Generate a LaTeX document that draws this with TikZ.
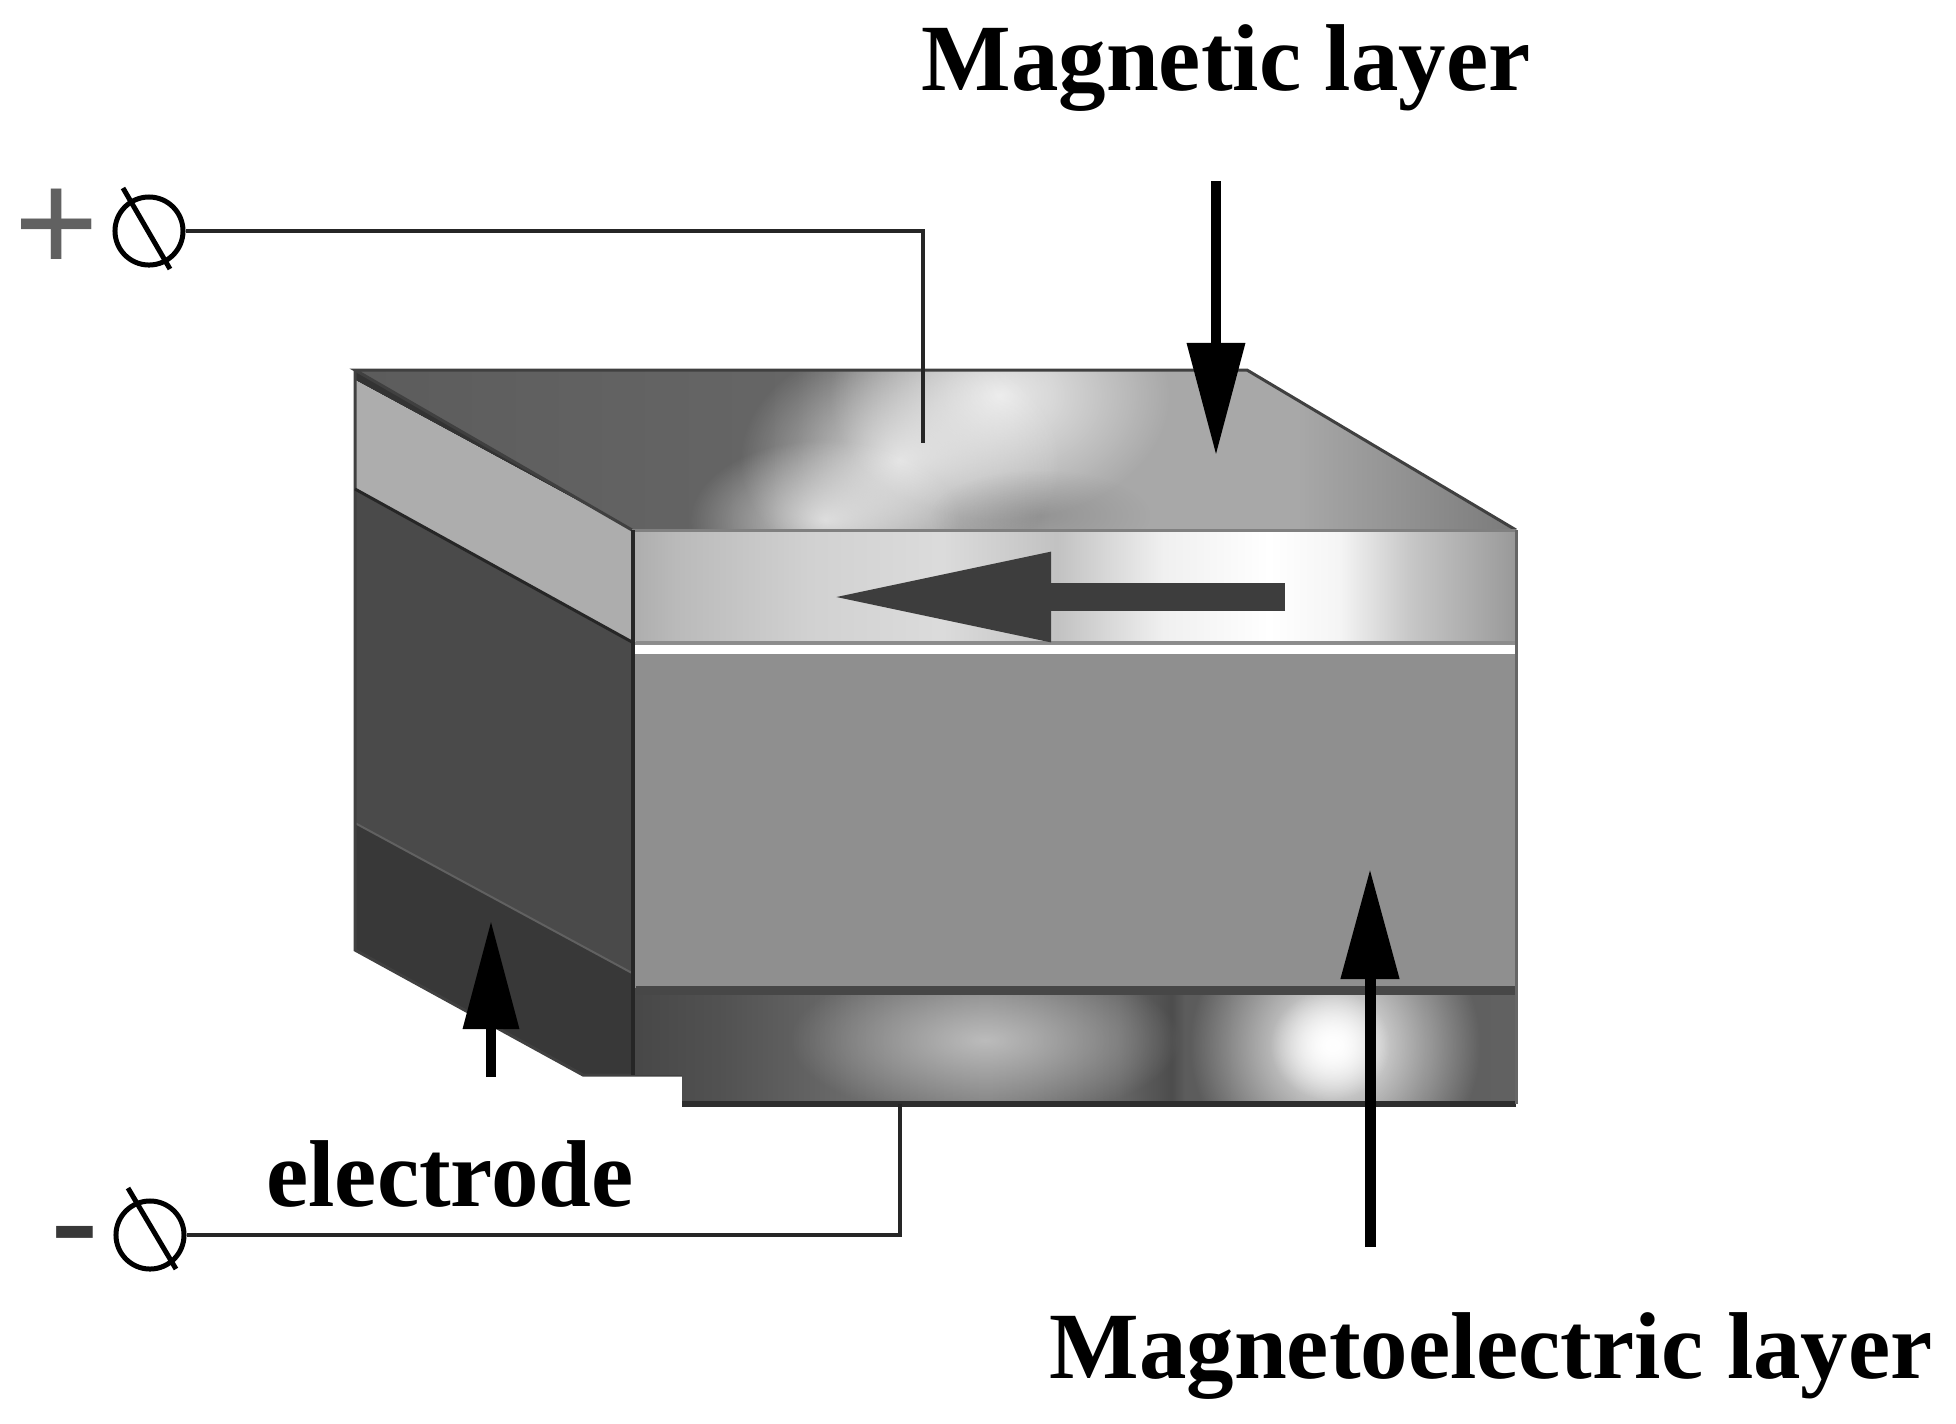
\documentclass[tikz,border=0pt]{standalone}
\usepackage{fontspec}
\setmainfont{Liberation Serif}
\usetikzlibrary{arrows.meta,fadings,shapes.geometric}

\pgfdeclarehorizontalshading{topshade}{100bp}{
  color(0bp)=(black!64); color(25bp)=(black!64); color(44bp)=(black!60);
  color(48.5bp)=(black!50); color(55bp)=(black!34); color(65.5bp)=(black!34);
  color(75bp)=(black!52); color(100bp)=(black!52)}
\pgfdeclarehorizontalshading{magshade}{100bp}{
  color(0bp)=(black!32); color(25bp)=(black!32); color(27.5bp)=(black!27);
  color(35bp)=(black!18); color(42.5bp)=(black!14); color(49bp)=(black!24);
  color(55bp)=(black!6); color(61bp)=(black!0); color(65bp)=(black!4);
  color(69bp)=(black!22); color(75bp)=(black!40); color(100bp)=(black!40)}
\pgfdeclarehorizontalshading{electrodeshade}{100bp}{
  color(0bp)=(black!72); color(25bp)=(black!72); color(30bp)=(black!68);
  color(37.5bp)=(black!58); color(45bp)=(black!52); color(52.5bp)=(black!60);
  color(55.5bp)=(black!70); color(56.25bp)=(black!64); color(75bp)=(black!62);
  color(100bp)=(black!62)}
\tikzfading[name=blob, inner color=transparent!0, outer color=transparent!100]

\begin{document}
\begin{tikzpicture}[
    x = 0.01cm,
    y = -0.01cm,
    wire/.style = {draw = black!85, line width = 0.035cm},
    terminal/.style = {draw, ellipse, line width = 0.05cm, inner sep = 0pt,
      minimum width = 0.68cm, minimum height = 0.68cm},
    slash/.style = {line width = 0.05cm},
    pointer/.style = {line width = 0.1cm,
      -{Triangle[length = 1.12cm, width = 0.56cm]}},
    shortpointer/.style = {pointer, -{Triangle[length = 1.08cm, width = 0.54cm]}},
    longpointer/.style = {pointer, line width = 0.11cm,
      -{Triangle[length = 1.1cm, width = 0.56cm]}},
    polarization/.style = {draw = black!76, line width = 0.28cm,
      -{Triangle[length = 2.25cm, width = 0.82cm]}},
    edge/.style = {draw = black!75, line width = 0.03cm},
    glow/.style = {path fading = blob},
    caption/.style = {font = \bfseries\fontsize{27}{32}\selectfont, anchor = base,
      inner sep = 0pt},
    sign/.style = {font = \bfseries\fontsize{43}{48}\selectfont, text = black!62,
      inner sep = 0pt}
  ]
  \useasboundingbox (0,0) rectangle (1956,1423);

  % Side faces
  \fill[black!80] (355,370) -- (632,530) -- (355,380) -- cycle;
  \fill[black!32] (355,380) -- (632,530) -- (632,642) -- (355,489) -- cycle;
  \fill[black!71] (355,489) -- (632,642) -- (632,973) -- (355,823) -- cycle;
  \fill[black!78] (355,823) -- (632,973) -- (632,1075) -- (583,1075) -- (355,950) -- cycle;
  \draw[black!62, line width = 0.02cm] (355,823) -- (632,973);
  \draw[edge] (355,370) -- (355,950) -- (583,1075) -- (682,1075);
  \draw[edge, black!85] (355,489) -- (632,642);

  % Top face
  \begin{scope}
    \clip (355,370) -- (1247,370) -- (1516,530) -- (632,530) -- cycle;
    \shade[shading = topshade] (355,370) rectangle (1516,530);
    \fill[white, glow, opacity = 0.8] (830,270) rectangle (1170,520);
    \fill[white, glow, opacity = 0.75] (740,340) rectangle (1060,580);
    \fill[white, glow, opacity = 0.7] (690,440) rectangle (960,600);
    \fill[black!60, glow, opacity = 0.3] (930,470) rectangle (1150,560);
  \end{scope}
  \draw[edge] (632,530) -- (355,370) -- (1247,370) -- (1516,530);

  % Front face
  \shade[shading = magshade] (633,530) rectangle (1516,642);
  \fill[black!44] (633,642) rectangle (1516,988);
  \fill[white] (633,645) rectangle (1516,654);
  \begin{scope}
    \clip (633,988) -- (1516,988) -- (1516,1104) -- (682,1104) -- (682,1075) -- (633,1075) -- cycle;
    \shade[shading = electrodeshade] (633,988) rectangle (1516,1104);
    \fill[black!22, glow, opacity = 0.85] (790,960) rectangle (1180,1120);
    \fill[white, glow] (1190,900) rectangle (1480,1190);
    \fill[white, glow] (1270,990) rectangle (1390,1100);
  \end{scope}
  \draw[edge, black!50] (632,530) -- (1516,530);
  \draw[edge, black!45] (636,642) -- (1516,642);
  \draw[edge, line width = 0.09cm, black!72] (636,990) -- (1516,990);
  \draw[edge, line width = 0.06cm, black!82] (682,1104) -- (1516,1104);
  \draw[edge, black!60] (1516,530) -- (1516,1104);
  \draw[edge, line width = 0.04cm, black!85] (633,530) -- (633,1075);

  % Arrows
  \coordinate (maglayerstart) at (1216,181);
  \coordinate (maglayerend) at (1216,455);
  \coordinate (electrodestart) at (491,1077);
  \coordinate (electrodeend) at (491,921);
  \coordinate (melayerstart) at (1370,1247);
  \coordinate (melayerend) at (1370,869);
  \coordinate (polstart) at (1285,597);
  \coordinate (polend) at (826,597);
  \draw[polarization] (polstart) -- (polend);
  \draw[pointer] (maglayerstart) -- (maglayerend);
  \draw[shortpointer] (electrodestart) -- (electrodeend);
  \draw[longpointer] (melayerstart) -- (melayerend);

  % Terminals
  \node[terminal] (plusterm) at (149,231) {};
  \node[terminal] (minusterm) at (150,1235) {};
  \coordinate (plusa) at (123,188);
  \coordinate (plusb) at (170,269);
  \coordinate (minusa) at (128,1188);
  \coordinate (minusb) at (176,1269);
  \draw[slash] (plusa) -- (plusb);
  \draw[slash] (minusa) -- (minusb);
  \coordinate (topcontact) at (923,443);
  \coordinate (bottomcontact) at (900,1104);
  \draw[wire] (plusterm.east) -| (topcontact);
  \draw[wire] (minusterm.east) -| (bottomcontact);

  % Labels
  \node[sign] (plus) at (57,232) {+};
  \node[sign, text = black!78, font = \bfseries\fontsize{40}{44}\selectfont] (minus) at (75,1246) {-};
  \node[caption] (maglabel) at (1226,90) {Magnetic layer};
  \node[caption] (electrodelabel) at (450,1206) {electrode};
  \node[caption] (melabel) at (1491,1378) {Magnetoelectric layer};
\end{tikzpicture}
\end{document}
